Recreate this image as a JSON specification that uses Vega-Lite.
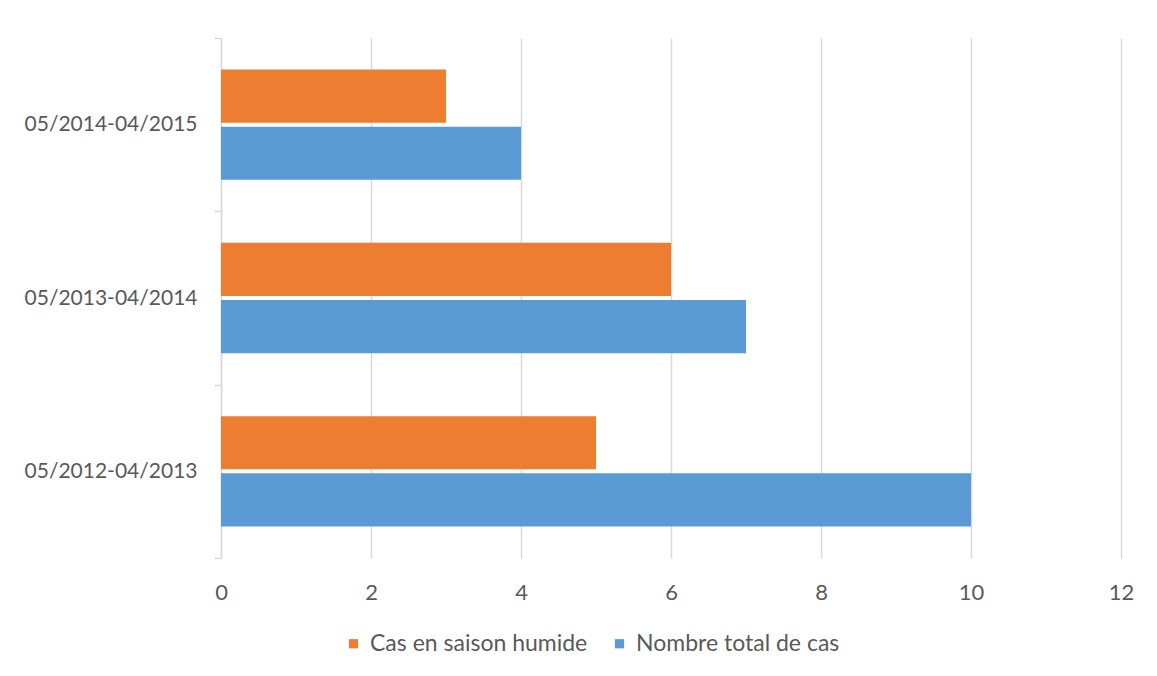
{
  "$schema": "https://vega.github.io/schema/vega-lite/v6.json",
  "autosize": {"type": "none"},
  "width": 900,
  "height": 520,
  "padding": {"left": 221, "top": 38, "right": 36, "bottom": 118},
  "background": "white",
  "config": {"view": {"stroke": null}, "font": "Lato"},
  "data": {
    "values": [
      {"periode": "05/2014-04/2015", "serie": "Cas en saison humide", "valeur": 3},
      {"periode": "05/2014-04/2015", "serie": "Nombre total de cas", "valeur": 4},
      {"periode": "05/2013-04/2014", "serie": "Cas en saison humide", "valeur": 6},
      {"periode": "05/2013-04/2014", "serie": "Nombre total de cas", "valeur": 7},
      {"periode": "05/2012-04/2013", "serie": "Cas en saison humide", "valeur": 5},
      {"periode": "05/2012-04/2013", "serie": "Nombre total de cas", "valeur": 10}
    ]
  },
  "mark": {"type": "bar"},
  "encoding": {
    "y": {
      "field": "periode",
      "type": "nominal",
      "sort": ["05/2014-04/2015", "05/2013-04/2014", "05/2012-04/2013"],
      "scale": {"paddingInner": 0, "paddingOuter": 0},
      "axis": {
        "title": null,
        "domainColor": "#d9d9d9",
        "domainWidth": 1.5,
        "tickColor": "#d9d9d9",
        "tickWidth": 1.5,
        "tickSize": 7,
        "tickBand": "extent",
        "labelFontSize": 21,
        "labelColor": "#595959",
        "labelPadding": 17,
        "labelLimit": 0,
        "grid": false
      }
    },
    "yOffset": {
      "field": "serie",
      "type": "nominal",
      "sort": ["Cas en saison humide", "Nombre total de cas"],
      "scale": {"paddingInner": 0.07, "paddingOuter": 0.55}
    },
    "x": {
      "field": "valeur",
      "type": "quantitative",
      "scale": {"domain": [0, 12], "nice": false},
      "axis": {
        "title": null,
        "values": [0, 2, 4, 6, 8, 10, 12],
        "domain": false,
        "ticks": false,
        "grid": true,
        "gridColor": "#d9d9d9",
        "gridWidth": 1.5,
        "labelFontSize": 22,
        "labelColor": "#595959",
        "labelPadding": 24,
        "labelFlush": false
      }
    },
    "color": {
      "field": "serie",
      "type": "nominal",
      "scale": {
        "domain": ["Cas en saison humide", "Nombre total de cas"],
        "range": ["#ED7D31", "#5B9BD5"]
      },
      "legend": {
        "title": null,
        "orient": "none",
        "direction": "horizontal",
        "legendX": 121,
        "legendY": 594,
        "symbolType": "square",
        "symbolSize": 85,
        "labelFontSize": 23,
        "labelColor": "#595959",
        "labelOffset": 5,
        "labelLimit": 0,
        "columnPadding": 20
      }
    }
  }
}
